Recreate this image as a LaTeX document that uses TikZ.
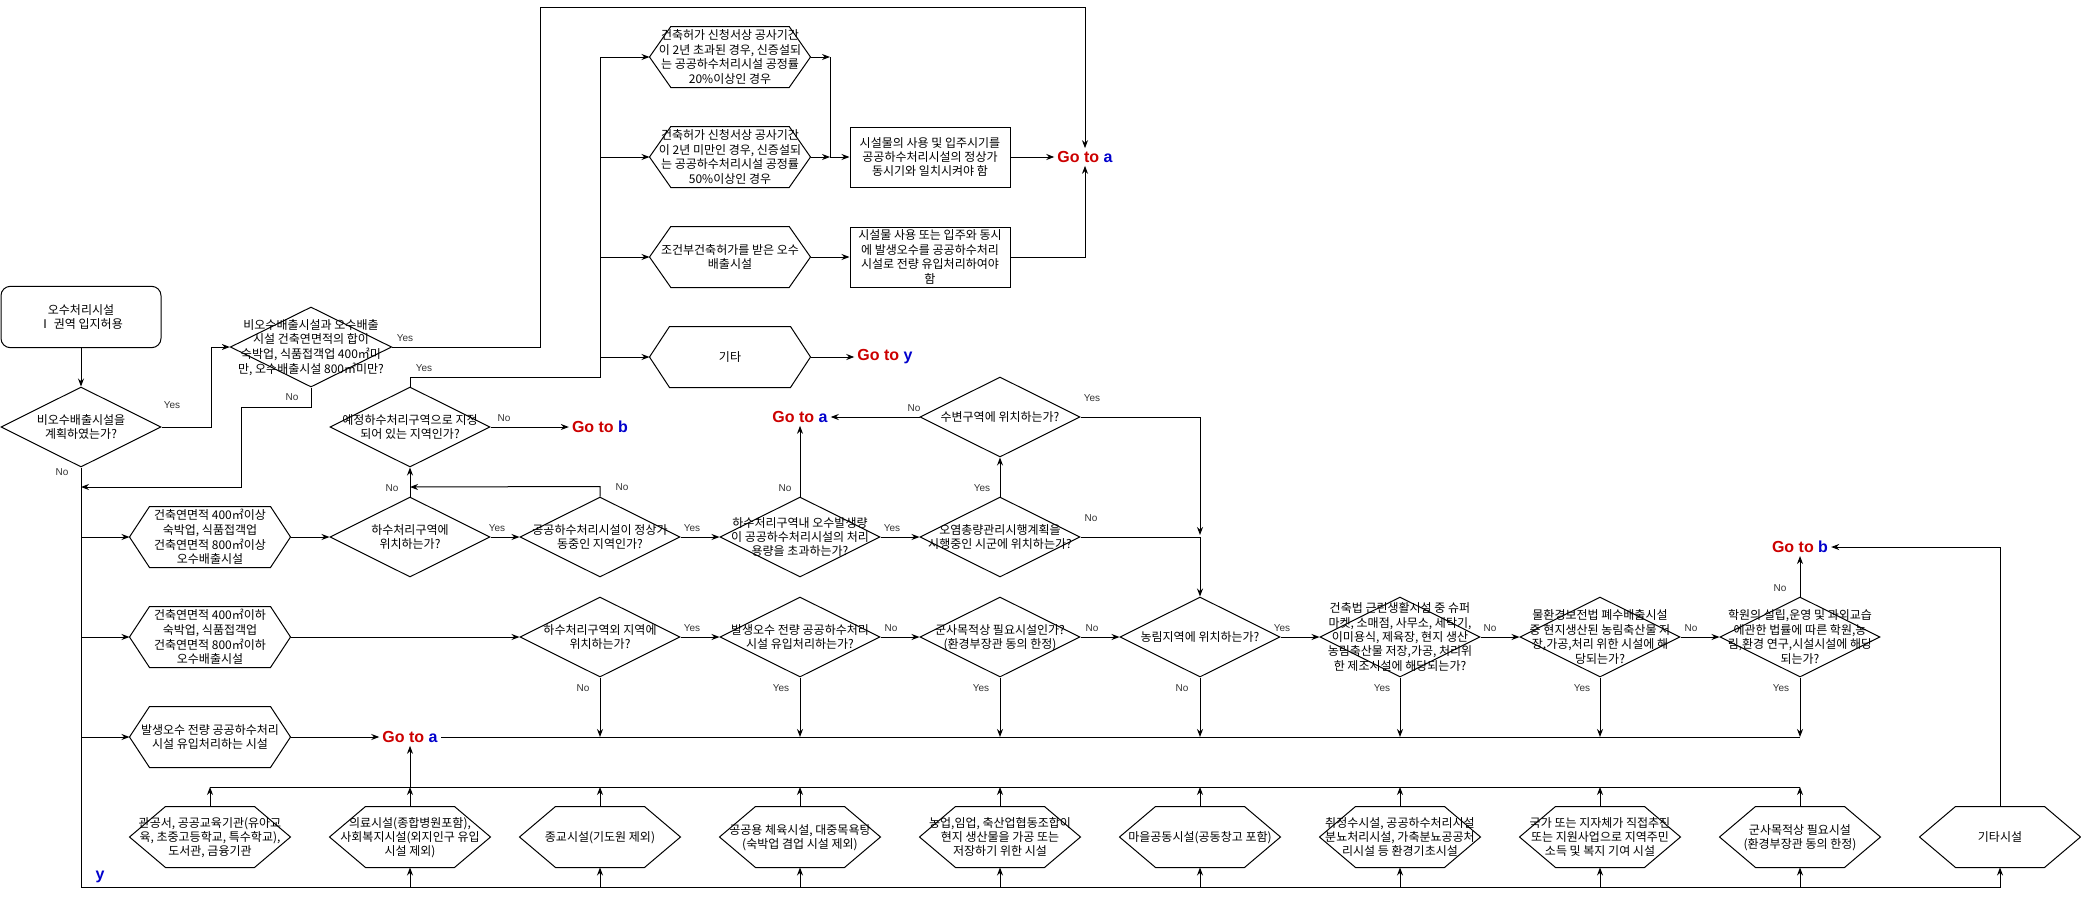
\documentclass[tikz,border=0pt]{standalone}
\usepackage{fontspec}
\setmainfont{Noto Sans CJK KR}
\newfontfamily\latfont{Liberation Sans}
\usetikzlibrary{arrows.meta,shapes.geometric}
\definecolor{gored}{RGB}{204,0,0}
\definecolor{goblue}{RGB}{0,0,204}
\newcommand\tx[1]{\smash{\makebox[0pt]{\raisebox{-3.4pt}{\begin{tabular}{@{}c@{}}#1\end{tabular}}}}}
\newcommand\gotext[1]{\textcolor{gored}{Go to} \textcolor{goblue}{#1}}
\tikzset{
  hexa/.style={rectangle, inner sep=0pt, minimum width=120pt, minimum height=45pt,
    append after command={\pgfextra{\draw ([xshift=#1]\tikzlastnode.north west)
      -- ([xshift=-#1]\tikzlastnode.north east) -- (\tikzlastnode.east)
      -- ([xshift=-#1]\tikzlastnode.south east) -- ([xshift=#1]\tikzlastnode.south west)
      -- (\tikzlastnode.west) -- cycle;}}},
  hexa/.default=15pt,
  ask/.style={diamond, draw, inner sep=0pt, minimum width=120pt, minimum height=60pt},
  rbox/.style={rectangle, draw, inner sep=0pt, minimum width=120pt, minimum height=45pt},
  lbl/.style={font=\latfont\fontsize{7.5}{9}\selectfont, text=black!80, inner sep=0pt},
  jump/.style={font=\latfont\bfseries\fontsize{12}{14}\selectfont, inner sep=2pt},
}
\begin{document}
\begin{tikzpicture}[x=0.75pt,y=-0.75pt,line width=0.75pt,
    >={Stealth[length=6pt,width=4.5pt]},font=\fontsize{9}{10.8}\selectfont]
  \useasboundingbox (0,0) rectangle (2081,896);
  \node[rbox,rounded corners=7pt,minimum height=46pt] (start) at (81,317) {\tx{오수처리시설\\Ⅰ 권역 입지허용}};
  \node[ask] (d1) at (81,427) {\tx{비오수배출시설을\\계획하였는가?}};
  \node[ask,minimum width=121pt] (d2) at (311,347) {\tx{비오수배출시설과 오수배출\\시설 건축연면적의 합이\\숙박업, 식품접객업 400㎡미\\만, 오수배출시설 800㎡미만?}};
  \node[ask] (d3) at (410,427) {\tx{예정하수처리구역으로 지정\\되어 있는 지역인가?}};
  \node[hexa=16pt] (ha) at (730,57) {\tx{건축허가 신청서상 공사기간\\이 2년 초과된 경우, 신증설되\\는 공공하수처리시설 공정률\\20\%이상인 경우}};
  \node[hexa=16pt] (hb) at (730,157) {\tx{건축허가 신청서상 공사기간\\이 2년 미만인 경우, 신증설되\\는 공공하수처리시설 공정률\\50\%이상인 경우}};
  \node[hexa=16pt] (hc) at (730,257) {\tx{조건부건축허가를 받은 오수\\배출시설}};
  \node[hexa] (hd) at (730,357) {\tx{기타}};
  \node[rbox] (r1) at (930,157) {\tx{시설물의 사용 및 입주시기를\\공공하수처리시설의 정상가\\동시기와 일치시켜야 함}};
  \node[rbox] (r2) at (930,257) {\tx{시설물 사용 또는 입주와 동시\\에 발생오수를 공공하수처리\\시설로 전량 유입처리하여야\\함}};
  \node[jump] (ga1) at (1085,157) {\gotext{a}};
  \node[jump] (gy) at (885,357) {\gotext{y}};
  \node[jump] (gb1) at (600,427) {\gotext{b}};
  \node[ask] (d4) at (1000,417) {\tx{수변구역에 위치하는가?}};
  \node[jump] (ga2) at (800,417) {\gotext{a}};
  \node[hexa] (h1) at (210,537) {\tx{건축연면적 400㎡이상\\숙박업, 식품접객업\\건축연면적 800㎡이상\\오수배출시설}};
  \node[ask] (d5) at (410,537) {\tx{하수처리구역에\\위치하는가?}};
  \node[ask] (d6) at (600,537) {\tx{공공하수처리시설이 정상가\\동중인 지역인가?}};
  \node[ask] (d8) at (800,537) {\tx{하수처리구역내 오수발생량\\이 공공하수처리시설의 처리\\용량을 초과하는가?}};
  \node[ask] (d9) at (1000,537) {\tx{오염총량관리시행계획을\\시행중인 시군에 위치하는가?}};
  \node[hexa] (h2) at (210,637) {\tx{건축연면적 400㎡이하\\숙박업, 식품접객업\\건축연면적 800㎡이하\\오수배출시설}};
  \node[ask] (d7) at (600,637) {\tx{하수처리구역외 지역에\\위치하는가?}};
  \node[ask] (d15) at (800,637) {\tx{발생오수 전량 공공하수처리\\시설 유입처리하는가?}};
  \node[ask] (d12) at (1000,637) {\tx{군사목적상 필요시설인가?\\(환경부장관 동의 한정)}};
  \node[ask] (d10) at (1200,637) {\tx{농림지역에 위치하는가?}};
  \node[ask] (d11) at (1400,637) {\tx{건축법 근린생활시설 중 슈퍼\\마켓, 소매점, 사무소, 세탁기,\\이미용식, 제육장, 현지 생산\\농림축산물 저장,가공, 처리위\\한 제조시설에 해당되는가?}};
  \node[ask] (d13) at (1600,637) {\tx{물환경보전법 폐수배출시설\\중 현지생산된 농림축산물 저\\장,가공,처리 위한 시설에 해\\당되는가?}};
  \node[ask] (d14) at (1800,637) {\tx{학원의 설립,운영 및 과외교습\\에관한 법률에 따른 학원,농\\림,환경 연구,시설시설에 해당\\되는가?}};
  \node[jump] (gb2) at (1800,547) {\gotext{b}};
  \node[hexa] (h3) at (210,737) {\tx{발생오수 전량 공공하수처리\\시설 유입처리하는 시설}};
  \node[jump] (ga3) at (410,737) {\gotext{a}};
  \node[hexa=27pt] (b1) at (210,837) {\tx{관공서, 공공교육기관(유아교\\육, 초중고등학교, 특수학교),\\도서관, 금융기관}};
  \node[hexa=27pt] (b2) at (410,837) {\tx{의료시설(종합병원포함),\\사회복지시설(외지인구 유입\\시설 제외)}};
  \node[hexa=27pt] (b3) at (600,837) {\tx{종교시설(기도원 제외)}};
  \node[hexa=27pt] (b4) at (800,837) {\tx{공공용 체육시설, 대중목욕탕\\(숙박업 겸업 시설 제외)}};
  \node[hexa=27pt] (b5) at (1000,837) {\tx{농업,임업, 축산업협동조합이\\현지 생산물을 가공 또는\\저장하기 위한 시설}};
  \node[hexa=27pt] (b6) at (1200,837) {\tx{마을공동시설(공동창고 포함)}};
  \node[hexa=27pt] (b7) at (1400,837) {\tx{취정수시설, 공공하수처리시설\\분뇨처리시설, 가축분뇨공공처\\리시설 등 환경기초시설}};
  \node[hexa=27pt] (b8) at (1600,837) {\tx{국가 또는 지자체가 직접추진\\또는 지원사업으로 지역주민\\소득 및 복지 기여 시설}};
  \node[hexa=27pt] (b9) at (1800,837) {\tx{군사목적상 필요시설\\(환경부장관 동의 한정)}};
  \node[hexa=27pt] (b10) at (2000,837) {\tx{기타시설}};
  \node[jump,font=\latfont\bfseries\fontsize{12}{14}\selectfont,text=goblue] (ylab) at (100,877) {y};
  \coordinate (yb) at (81,887);
  \coordinate (j1) at (81,487);
  \coordinate (j2) at (410,487);
  \coordinate (j3) at (1200,535);
  \coordinate (br) at (600,377);
  \coordinate (m1) at (830,57);
  \coordinate (m2) at (830,157);
  \coordinate (ln) at (1800,737);
  \coordinate (tl) at (1800,787);
  \foreach \t/\x/\y [count=\i] in {Yes/172/405, No/62/472, Yes/405/338, No/292/397,
      Yes/424/368, No/504/418, No/392/488, No/622/487, Yes/497/528, Yes/692/528,
      No/785/488, Yes/892/528, Yes/982/488, No/1091/518, No/914/408, Yes/1092/398,
      Yes/692/628, No/583/688, No/891/628, Yes/781/688, No/1092/628, Yes/981/688,
      Yes/1282/628, No/1182/688, No/1490/628, Yes/1382/688, No/1691/628, Yes/1582/688,
      No/1780/588, Yes/1781/688}
    \node[lbl] (lab\i) at (\x,\y) {\t};
  \draw[->] (start) -- (d1);
  \draw[->] (d1.east) -- ++(50,0) |- (d2.west);
  \draw[->] (d2.east) -| (540,7) -| (ga1.north);
  \draw[->] (d2.south) -- ++(0,20) -| (241,487) -- (j1);
  \draw[->] (d1.south) -- (yb) -| (b10.south);
  \foreach \n in {b2,b3,b4,b5,b6,b7,b8,b9} \draw[->] (\n.south |- yb) -- (\n.south);
  \foreach \n in {h1,h2,h3} \draw[->] (\n.west -| yb) -- (\n.west);
  \draw (d3.north) |- (br) -- (br |- ha.west);
  \foreach \n in {ha,hb,hc,hd} \draw[->] (br |- \n.west) -- (\n.west);
  \draw[->] (d3) -- (gb1);
  \draw[->] (ha.east) -- (m1);
  \draw[->] (hb.east) -- (m2);
  \draw[->] (m1) -- (m2) -- (r1.west);
  \draw[->] (r1) edge (ga1) (hc) edge (r2) (hd) edge (gy);
  \draw[->] (r2.east) -| (ga1.south);
  \draw[->] (h1) edge (d5) (d5) edge (d6) (d6) edge (d8) (d8) edge (d9)
    (d5) edge (d3) (d8) edge (ga2) (d9) edge (d4) (d4) edge (ga2);
  \draw[->] (d6.north) -- ++(0,-10) -- (j2);
  \draw[->] (d4.east) -| (j3);
  \draw[->] (d9.east) -| (d10.north);
  \draw[->] (h2) edge (d7) (d7) edge (d15) (d15) edge (d12) (d12) edge (d10)
    (d10) edge (d11) (d11) edge (d13) (d13) edge (d14) (d14) edge (gb2) (h3) edge (ga3);
  \foreach \n in {d7,d15,d12,d10,d11,d13,d14} \draw[->] (\n.south) -- (\n.south |- ln);
  \draw (ln) -- (ga3.east);
  \draw[->] (b10.north) |- (gb2.east);
  \draw (b1.north |- tl) -- (tl);
  \foreach \n in {b1,b2,b3,b4,b5,b6,b7,b8,b9} \draw[->] (\n.north) -- (\n.north |- tl);
  \draw[->] (b2.north |- tl) -- (ga3.south);
\end{tikzpicture}
\end{document}
